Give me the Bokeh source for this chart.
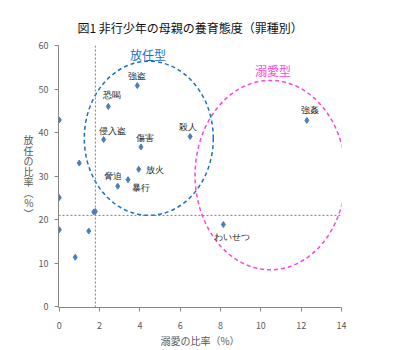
from bokeh.plotting import figure
from bokeh.models import ColumnDataSource, Span, Label, LabelSet, Range1d, FixedTicker
from bokeh.embed import file_html
from bokeh.resources import INLINE

FONT = "Noto Sans CJK JP"

# --- data ---
crime_names = ["強盗", "恐喝", "侵入盗", "傷害", "殺人", "放火", "暴行", "脅迫", "強姦", "わいせつ"]
crime_indulge = [3.87, 2.43, 2.20, 4.05, 6.49, 3.94, 3.41, 2.90, 12.28, 8.14]
crime_neglect = [50.8, 46.0, 38.4, 36.7, 39.1, 31.6, 29.2, 27.7, 42.8, 18.9]

other_indulge = [0.0, 0.99, 0.0, 0.0, 0.79, 1.46, 1.71, 1.79]
other_neglect = [42.9, 33.0, 25.1, 17.7, 11.4, 17.4, 21.8, 21.9]

mean_indulge = 1.79
mean_neglect = 21.0

group_names = ["放任型", "溺愛型"]
group_cx = [4.44, 10.47]
group_cy = [38.7, 30.25]
group_w = [6.4, 7.47]
group_h = [35.4, 43.5]

x_ticks = [0, 2, 4, 6, 8, 10, 12, 14]
y_ticks = [0, 10, 20, 30, 40, 50, 60]

title_text = "図1  非行少年の母親の養育態度（罪種別）"
x_title = "溺愛の比率（%）"
y_title = "放\n任\nの\n比\n率\n︵\n%\n︶"

# --- label placement (pixels) ---
label_dx = [0, 4, 9, 4, -2, 16, 13, -5, 3, 9]
label_dy = [10, 11, 9, 9, 10, -1, -8, 10, 10, -12]

p = figure(width=420, height=350, output_backend="svg", toolbar_location=None,
           x_range=Range1d(-0.04, 14.0), y_range=Range1d(-0.15, 60))
p.min_border_left = 58
p.min_border_right = 79
p.min_border_top = 45
p.min_border_bottom = 36
p.outline_line_color = None
p.xgrid.visible = False
p.ygrid.visible = False
p.background_fill_color = "white"
p.border_fill_color = "white"

p.title.text = title_text
p.title.align = "left"
p.title.offset = 19
p.title.text_font = FONT
p.title.text_font_size = "12px"
p.title.text_font_style = "normal"
p.title.text_color = "#111111"
p.title.vertical_align = "bottom"
p.title.standoff = 19

for ax in (p.xaxis[0], p.yaxis[0]):
    ax.axis_line_color = "#868686"
    ax.major_tick_line_color = "#868686"
    ax.minor_tick_line_color = None
    ax.major_tick_in = 0
    ax.major_tick_out = 4
    ax.major_label_text_font = FONT
    ax.major_label_text_font_size = "9px"
    ax.major_label_text_color = "#595959"
    ax.axis_label_text_font = FONT
    ax.axis_label_text_font_size = "10px"
    ax.axis_label_text_font_style = "normal"
    ax.axis_label_text_color = "#595959"

p.xaxis.ticker = FixedTicker(ticks=x_ticks)
p.yaxis.ticker = FixedTicker(ticks=y_ticks)
p.xaxis.major_label_standoff = 10
p.yaxis.major_label_standoff = 6
p.xaxis.axis_label = x_title
p.xaxis.axis_label_standoff = 1
p.yaxis.axis_label = y_title
p.yaxis.axis_label_orientation = "horizontal"
p.yaxis.axis_label_standoff = 2
p.yaxis.axis_label_text_line_height = 0.7

# reference lines
p.add_layout(Span(location=mean_indulge, dimension="height", line_color="#7f7f7f",
                  line_dash="2 2", line_width=1))
p.add_layout(Span(location=mean_neglect, dimension="width", line_color="#7f7f7f",
                  line_dash="2 2", line_width=1))

# group ellipses
p.ellipse(x=[group_cx[0]], y=[group_cy[0]], width=[group_w[0]], height=[group_h[0]],
          fill_color=None, line_color="#1a6fc4", line_dash="4 3", line_width=1.5)
p.ellipse(x=[group_cx[1]], y=[group_cy[1]], width=[group_w[1]], height=[group_h[1]],
          fill_color=None, line_color="#ff44dd", line_dash="4 3", line_width=1.5)

# points
all_x = crime_indulge + other_indulge
all_y = crime_neglect + other_neglect
p.scatter(x=all_x, y=all_y, marker="diamond", size=6, fill_color="#4a7ebb",
          line_color="#4a7ebb")

src = ColumnDataSource(dict(x=crime_indulge, y=crime_neglect, t=crime_names,
                            dx=label_dx, dy=label_dy))
p.add_layout(LabelSet(x="x", y="y", text="t", source=src, x_offset="dx", y_offset="dy",
                      text_align="center", text_baseline="middle", text_font=FONT,
                      text_font_size="9px", text_color="#222222"))

# group titles
p.add_layout(Label(x=4.4, y=58.0, text=group_names[0], text_align="center",
                   text_baseline="middle", text_font=FONT, text_font_size="12px",
                   text_color="#1a6fc4"))
p.add_layout(Label(x=10.6, y=54.3, text=group_names[1], text_align="center",
                   text_baseline="middle", text_font=FONT, text_font_size="12px",
                   text_color="#ff44dd"))

open("out.html", "w").write(file_html(p, INLINE))
